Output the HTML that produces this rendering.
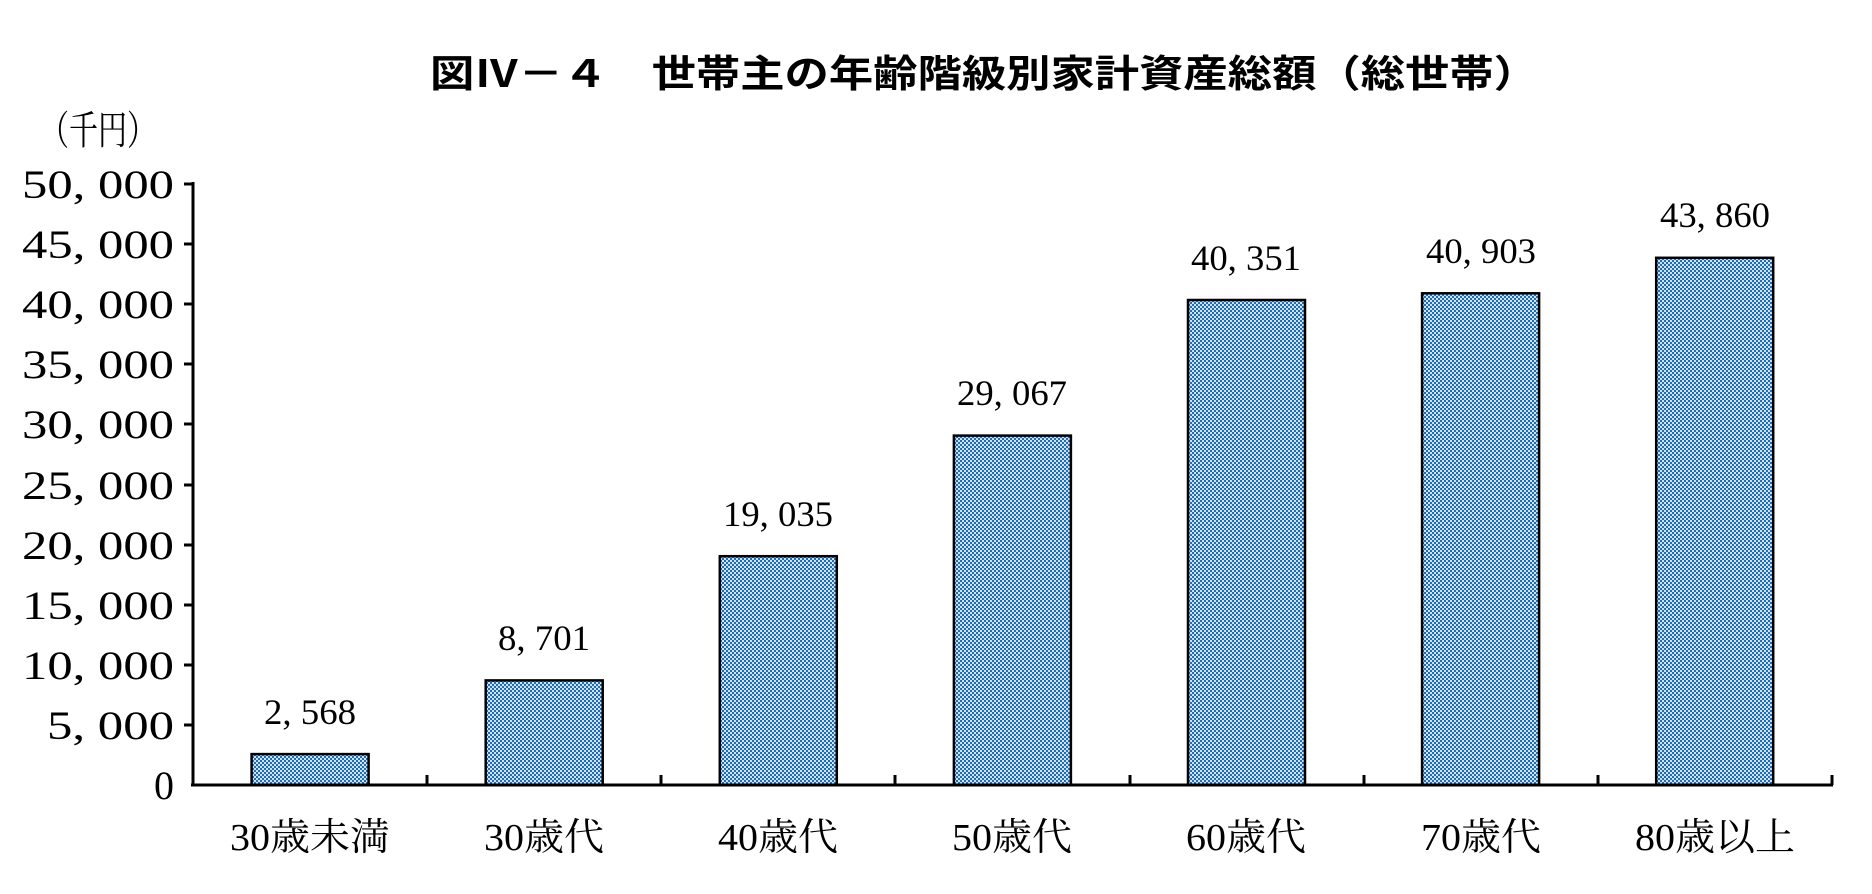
<!DOCTYPE html>
<html><head><meta charset="utf-8"><style>html,body{margin:0;padding:0;background:#fff;}svg{display:block}</style></head><body>
<svg width="1872" height="894" viewBox="0 0 1872 894" xmlns="http://www.w3.org/2000/svg" font-family="'Liberation Serif','Noto Serif CJK SC',serif">
<defs>
<pattern id="chk" width="4" height="4" patternUnits="userSpaceOnUse">
<rect width="4" height="4" fill="#cfe2f3"/>
<rect width="2" height="2" fill="#1f6db3"/>
<rect x="2" y="2" width="2" height="2" fill="#1f6db3"/>
</pattern>
</defs>
<text x="984" y="87" text-anchor="middle" font-size="38" font-weight="bold" font-family="'Liberation Sans','Noto Sans CJK JP',sans-serif" textLength="1108" lengthAdjust="spacingAndGlyphs">図Ⅳ－４　世帯主の年齢階級別家計資産総額（総世帯）</text>
<text x="40" y="144" font-size="40" textLength="116" lengthAdjust="spacingAndGlyphs">（千円）</text>
<g font-size="40" text-anchor="end">
<text x="174" y="198" textLength="152" lengthAdjust="spacingAndGlyphs">50, 000</text>
<text x="174" y="258" textLength="152" lengthAdjust="spacingAndGlyphs">45, 000</text>
<text x="174" y="318" textLength="152" lengthAdjust="spacingAndGlyphs">40, 000</text>
<text x="174" y="378" textLength="152" lengthAdjust="spacingAndGlyphs">35, 000</text>
<text x="174" y="438" textLength="152" lengthAdjust="spacingAndGlyphs">30, 000</text>
<text x="174" y="499" textLength="152" lengthAdjust="spacingAndGlyphs">25, 000</text>
<text x="174" y="559" textLength="152" lengthAdjust="spacingAndGlyphs">20, 000</text>
<text x="174" y="619" textLength="152" lengthAdjust="spacingAndGlyphs">15, 000</text>
<text x="174" y="679" textLength="152" lengthAdjust="spacingAndGlyphs">10, 000</text>
<text x="174" y="739" textLength="127" lengthAdjust="spacingAndGlyphs">5, 000</text>
<text x="174" y="799">0</text>
</g>
<g fill="url(#chk)" stroke="#000" stroke-width="2.5">
<rect x="251.6" y="754.1" width="117" height="30.9"/>
<rect x="485.7" y="680.4" width="117" height="104.6"/>
<rect x="719.8" y="556.2" width="117" height="228.8"/>
<rect x="953.9" y="435.6" width="117" height="349.4"/>
<rect x="1188" y="300" width="117" height="485"/>
<rect x="1422.1" y="293.3" width="117" height="491.7"/>
<rect x="1656.2" y="257.8" width="117" height="527.2"/>
</g>
<g stroke="#000" stroke-width="3" fill="none">
<line x1="193" y1="182" x2="193" y2="786"/>
<line x1="191" y1="785" x2="1833" y2="785"/>
<path d="M184 184H193M184 244H193M184 304H193M184 364H193M184 424H193M184 485H193M184 545H193M184 605H193M184 665H193M184 725H193"/>
<path d="M427 785V775M661 785V775M895 785V775M1130 785V775M1364 785V775M1598 785V775M1832 785V775"/>
</g>
<g font-size="36" text-anchor="middle">
<text x="310" y="724" textLength="92" lengthAdjust="spacingAndGlyphs">2, 568</text>
<text x="544" y="650" textLength="92" lengthAdjust="spacingAndGlyphs">8, 701</text>
<text x="778" y="526" textLength="110" lengthAdjust="spacingAndGlyphs">19, 035</text>
<text x="1012" y="405" textLength="110" lengthAdjust="spacingAndGlyphs">29, 067</text>
<text x="1246" y="270" textLength="110" lengthAdjust="spacingAndGlyphs">40, 351</text>
<text x="1481" y="263" textLength="110" lengthAdjust="spacingAndGlyphs">40, 903</text>
<text x="1715" y="227" textLength="110" lengthAdjust="spacingAndGlyphs">43, 860</text>
</g>
<g font-size="38" text-anchor="middle">
<text x="310" y="850" textLength="160" lengthAdjust="spacingAndGlyphs">30歳未満</text>
<text x="544" y="850" textLength="120" lengthAdjust="spacingAndGlyphs">30歳代</text>
<text x="778" y="850" textLength="120" lengthAdjust="spacingAndGlyphs">40歳代</text>
<text x="1012" y="850" textLength="120" lengthAdjust="spacingAndGlyphs">50歳代</text>
<text x="1246" y="850" textLength="120" lengthAdjust="spacingAndGlyphs">60歳代</text>
<text x="1481" y="850" textLength="120" lengthAdjust="spacingAndGlyphs">70歳代</text>
<text x="1715" y="850" textLength="160" lengthAdjust="spacingAndGlyphs">80歳以上</text>
</g>
</svg>
</body></html>
